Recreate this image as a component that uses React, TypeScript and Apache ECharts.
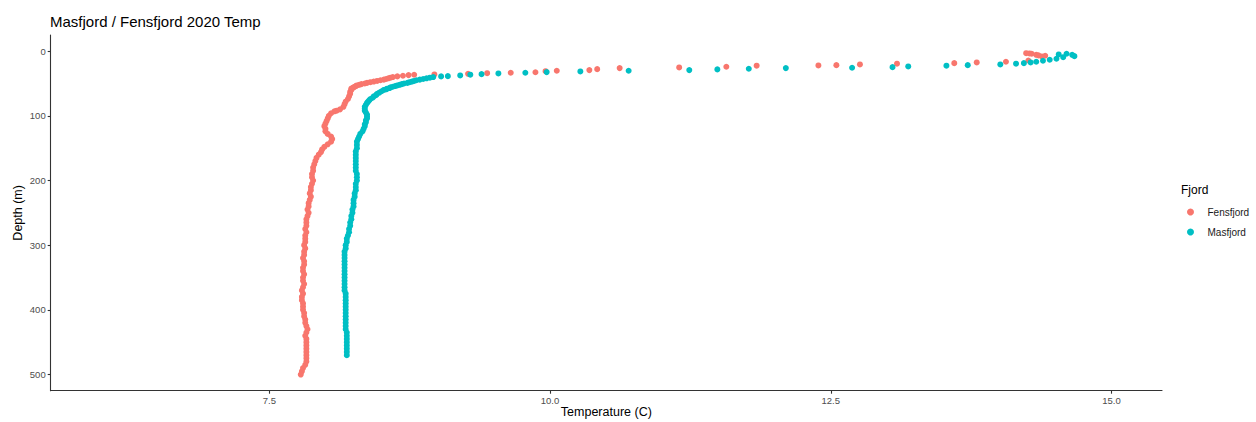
import React, { useEffect, useRef } from "react";
import * as echarts from "echarts";

// [temperature (C), depth (m)]
const fensfjordSurface: [number, number][] = [
  [14.24, 3.1], [14.27, 3.5], [14.29, 4.0], [14.33, 5.6], [14.35, 6.5], [14.41, 7.1], [14.38, 8.2],
  [14.26, 14.4], [14.06, 16.4], [13.8, 17.4], [13.6, 18.5], [13.09, 19.4], [12.76, 20.5], [12.55, 21.6],
  [12.39, 22.1], [11.84, 22.5], [11.57, 24.1], [11.15, 25.2], [10.62, 26.2], [10.42, 27.8], [10.35, 29.3],
  [10.06, 30.3], [9.96, 31.0], [9.87, 32.6], [9.65, 33.4], [9.44, 34.0], [9.27, 35.0], [8.97, 36.0],
];

const fensfjordColumn: [number, number][] = [
  [8.79, 36.5], [8.74, 37], [8.69, 38], [8.64, 39], [8.6, 40], [8.58, 41], [8.56, 42], [8.54, 43], [8.52, 44],
  [8.49, 45], [8.46, 46], [8.43, 47], [8.4, 48], [8.37, 49], [8.35, 50], [8.32, 51], [8.3, 52], [8.28, 53],
  [8.27, 54], [8.26, 55], [8.25, 56], [8.24, 57], [8.23, 58], [8.23, 60], [8.22, 63], [8.22, 66], [8.21, 70],
  [8.2, 74], [8.18, 78], [8.17, 82], [8.16, 86], [8.13, 90], [8.1, 92], [8.08, 93], [8.05, 96], [8.03, 100],
  [8.02, 104], [8.01, 108], [8.0, 112], [7.99, 116], [8.0, 120], [8.0, 124], [8.02, 128], [8.05, 132],
  [8.06, 136], [8.05, 140], [8.02, 144], [7.99, 148], [7.97, 152], [7.96, 156], [7.94, 160], [7.92, 165],
  [7.91, 170], [7.9, 175], [7.89, 180], [7.89, 185], [7.88, 190], [7.88, 195], [7.89, 200], [7.88, 205],
  [7.87, 210], [7.87, 215], [7.86, 220], [7.87, 225], [7.86, 230], [7.85, 235], [7.85, 240], [7.84, 245],
  [7.85, 250], [7.84, 255], [7.83, 260], [7.83, 265], [7.83, 270], [7.82, 275], [7.83, 280], [7.82, 285],
  [7.82, 290], [7.82, 295], [7.81, 300], [7.82, 305], [7.81, 310], [7.81, 315], [7.8, 320], [7.81, 325],
  [7.81, 330], [7.8, 335], [7.8, 340], [7.81, 345], [7.8, 350], [7.8, 355], [7.81, 360], [7.8, 365],
  [7.79, 370], [7.8, 375], [7.79, 380], [7.79, 385], [7.8, 390], [7.8, 395], [7.8, 400], [7.81, 405],
  [7.81, 410], [7.82, 415], [7.82, 420], [7.83, 425], [7.84, 430], [7.83, 435], [7.82, 440], [7.83, 445],
  [7.83, 450], [7.83, 455], [7.83, 460], [7.83, 465], [7.83, 470], [7.83, 475], [7.83, 480], [7.82, 485],
  [7.8, 490], [7.79, 495], [7.78, 500],
];

const masfjordSurface: [number, number][] = [
  [14.6, 4.0], [14.53, 5.1], [14.65, 5.6], [14.67, 7.7], [14.57, 9.3], [14.51, 11.7], [14.45, 13.3],
  [14.39, 14.8], [14.33, 16.4], [14.28, 17.4], [14.22, 18.5], [14.15, 19.4], [14.01, 20.5], [13.72, 21.6],
  [13.53, 22.5], [13.19, 23.6], [13.05, 24.7], [12.69, 25.6], [12.1, 26.2], [11.77, 27.2], [11.49, 28.2],
  [11.24, 29.3], [10.7, 30.3], [10.27, 31.3], [9.97, 32.4], [9.78, 33.4], [9.54, 34.4], [9.39, 35.5],
  [9.29, 36.4], [9.2, 37.5], [9.09, 38.6], [9.03, 39.0],
];

const masfjordColumn: [number, number][] = [
  [8.96, 40], [8.93, 41], [8.9, 42], [8.87, 43], [8.84, 44], [8.81, 45], [8.79, 46], [8.77, 47], [8.75, 48],
  [8.73, 49], [8.7, 50], [8.68, 51], [8.66, 52], [8.64, 53], [8.62, 54], [8.6, 55], [8.58, 56], [8.57, 57],
  [8.55, 58], [8.54, 59], [8.52, 60], [8.5, 62], [8.48, 64], [8.46, 66], [8.45, 68], [8.43, 70], [8.42, 72],
  [8.4, 74], [8.39, 76], [8.38, 78], [8.37, 80], [8.36, 83], [8.35, 86], [8.35, 89], [8.35, 92], [8.36, 95],
  [8.37, 98], [8.37, 101], [8.37, 104], [8.36, 107], [8.36, 110], [8.35, 113], [8.35, 116], [8.34, 120],
  [8.33, 124], [8.31, 128], [8.3, 132], [8.29, 136], [8.28, 140], [8.28, 145], [8.28, 150], [8.27, 155],
  [8.27, 160], [8.27, 165], [8.27, 170], [8.27, 175], [8.27, 180], [8.27, 185], [8.28, 190], [8.28, 195],
  [8.28, 200], [8.27, 205], [8.27, 210], [8.27, 215], [8.26, 220], [8.26, 225], [8.25, 230], [8.25, 235],
  [8.25, 240], [8.24, 245], [8.24, 250], [8.23, 255], [8.23, 260], [8.22, 265], [8.22, 270], [8.21, 275],
  [8.21, 280], [8.2, 285], [8.19, 290], [8.19, 295], [8.18, 300], [8.18, 305], [8.17, 310], [8.17, 315],
  [8.17, 320], [8.17, 325], [8.17, 330], [8.17, 335], [8.17, 340], [8.17, 345], [8.17, 350], [8.17, 355],
  [8.17, 360], [8.17, 365], [8.17, 370], [8.18, 375], [8.18, 380], [8.18, 385], [8.18, 390], [8.18, 395],
  [8.18, 400], [8.18, 405], [8.18, 410], [8.18, 415], [8.18, 420], [8.18, 425], [8.18, 430], [8.19, 435],
  [8.19, 440], [8.19, 445], [8.19, 450], [8.19, 455], [8.19, 460], [8.19, 465], [8.19, 470],
];

const xTicks = [7.5, 10.0, 12.5, 15.0];
const yTicks = [0, 100, 200, 300, 400, 500];
const seriesNames = ["Fensfjord", "Masfjord"];
const seriesColors = ["#F8766D", "#00BFC4"];

const FONT = "'Liberation Sans', Arial, Helvetica, sans-serif";

export default function App() {
  const ref = useRef<HTMLDivElement>(null);
  useEffect(() => {
    document.body.style.margin = "0";
    if (!ref.current) return;
    const chart = echarts.init(ref.current, null, { renderer: "svg" });
    const axisLine = { show: true, onZero: false, lineStyle: { color: "#333333", width: 1.1 } };
    chart.setOption({
      animation: false,
      backgroundColor: "#ffffff",
      textStyle: { fontFamily: FONT },
      title: {
        text: "Masfjord / Fensfjord 2020 Temp",
        left: 45,
        top: 9,
        textStyle: { fontSize: 15, fontWeight: "normal", color: "#000000", fontFamily: FONT },
      },
      grid: { left: 50.7, right: 94, top: 35, bottom: 31.3, outerBoundsMode: "none", containLabel: false },
      xAxis: {
        type: "value",
        min: 5.553,
        max: 15.45,
        name: "Temperature (C)",
        nameLocation: "middle",
        nameGap: 15,
        nameMoveOverlap: false,
        nameTextStyle: { fontSize: 12.5, color: "#000000", fontFamily: FONT },
        axisLine,
        splitLine: { show: false },
        axisTick: { show: true, length: 3, customValues: xTicks, lineStyle: { color: "#333333", width: 1.1 } },
        axisLabel: {
          customValues: xTicks,
          formatter: (v: number) => v.toFixed(1),
          fontSize: 9.5,
          color: "#4d4d4d",
          margin: 5,
          fontFamily: FONT,
        },
      },
      yAxis: {
        type: "value",
        inverse: true,
        min: -25,
        max: 525,
        name: "Depth (m)",
        nameLocation: "middle",
        nameGap: 26,
        nameMoveOverlap: false,
        nameRotate: 90,
        nameTextStyle: { fontSize: 12.5, color: "#000000", fontFamily: FONT },
        axisLine,
        splitLine: { show: false },
        axisTick: { show: true, length: 3, customValues: yTicks, lineStyle: { color: "#333333", width: 1.1 } },
        axisLabel: {
          customValues: yTicks,
          fontSize: 9.5,
          color: "#4d4d4d",
          margin: 5,
          fontFamily: FONT,
        },
      },
      legend: {
        orient: "vertical",
        left: 1187,
        top: 207,
        padding: 0,
        itemWidth: 24,
        itemHeight: 7,
        itemGap: 10,
        icon: "circle",
        data: seriesNames,
        textStyle: { fontSize: 10, color: "#1a1a1a", fontFamily: FONT },
      },
      graphic: [
        {
          type: "text",
          left: 1181,
          top: 184,
          style: { text: "Fjord", fontSize: 12, fill: "#000000", fontFamily: FONT },
        },
      ],
      series: [
        {
          name: seriesNames[0],
          type: "scatter",
          symbolSize: 6,
          itemStyle: { color: seriesColors[0], opacity: 1 },
          data: [...fensfjordColumn, ...fensfjordSurface],
        },
        {
          name: seriesNames[1],
          type: "scatter",
          symbolSize: 6,
          itemStyle: { color: seriesColors[1], opacity: 1 },
          data: [...masfjordColumn, ...masfjordSurface],
        },
      ],
    });
    return () => chart.dispose();
  }, []);
  return <div ref={ref} style={{ width: 1256, height: 422 }} />;
}
